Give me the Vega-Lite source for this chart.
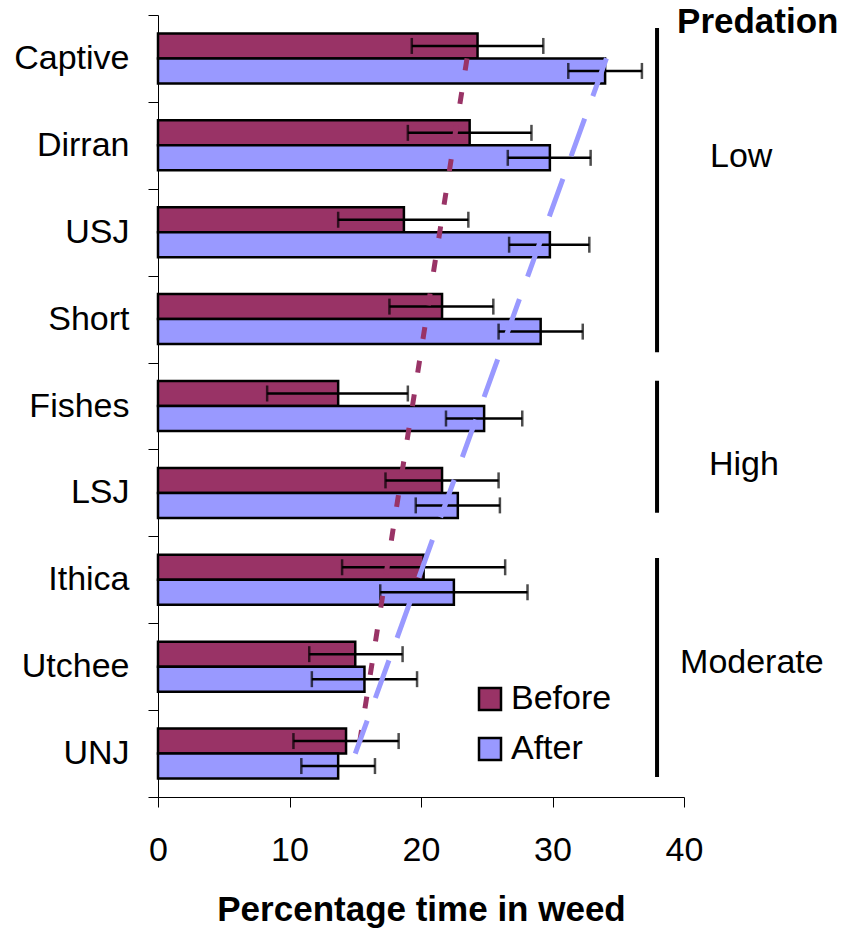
{
  "$schema": "https://vega.github.io/schema/vega-lite/v6.json",
  "width": 526,
  "height": 782,
  "autosize": {"type": "none"},
  "padding": {"left": 158, "top": 15, "right": 157, "bottom": 133},
  "background": "white",
  "config": {
    "font": "Liberation Sans",
    "view": {"stroke": null},
    "axis": {"labelColor": "black", "titleColor": "black", "domainColor": "black", "tickColor": "black", "grid": false}
  },
  "datasets": {
    "bars": [
      {"site": "Captive", "series": "Before", "value": 24.3, "lo": 19.3, "hi": 29.3},
      {"site": "Captive", "series": "After", "value": 34.0, "lo": 31.2, "hi": 36.8},
      {"site": "Dirran", "series": "Before", "value": 23.7, "lo": 19.0, "hi": 28.4},
      {"site": "Dirran", "series": "After", "value": 29.8, "lo": 26.6, "hi": 32.9},
      {"site": "USJ", "series": "Before", "value": 18.7, "lo": 13.7, "hi": 23.6},
      {"site": "USJ", "series": "After", "value": 29.8, "lo": 26.7, "hi": 32.8},
      {"site": "Short", "series": "Before", "value": 21.6, "lo": 17.6, "hi": 25.5},
      {"site": "Short", "series": "After", "value": 29.1, "lo": 25.9, "hi": 32.3},
      {"site": "Fishes", "series": "Before", "value": 13.7, "lo": 8.3, "hi": 19.0},
      {"site": "Fishes", "series": "After", "value": 24.8, "lo": 21.9, "hi": 27.7},
      {"site": "LSJ", "series": "Before", "value": 21.6, "lo": 17.3, "hi": 25.9},
      {"site": "LSJ", "series": "After", "value": 22.8, "lo": 19.6, "hi": 26.0},
      {"site": "Ithica", "series": "Before", "value": 20.2, "lo": 14.0, "hi": 26.4},
      {"site": "Ithica", "series": "After", "value": 22.5, "lo": 16.9, "hi": 28.1},
      {"site": "Utchee", "series": "Before", "value": 15.0, "lo": 11.5, "hi": 18.6},
      {"site": "Utchee", "series": "After", "value": 15.7, "lo": 11.7, "hi": 19.7},
      {"site": "UNJ", "series": "Before", "value": 14.3, "lo": 10.3, "hi": 18.3},
      {"site": "UNJ", "series": "After", "value": 13.7, "lo": 10.9, "hi": 16.5}
    ],
    "trend": [
      {"site": "Captive", "series": "Before", "value": 23.5},
      {"site": "UNJ", "series": "Before", "value": 15.2},
      {"site": "Captive", "series": "After", "value": 34.1},
      {"site": "UNJ", "series": "After", "value": 15.0}
    ],
    "groups": [
      {"group": "Low", "x": 37.95, "y": 0.15, "y2": 3.88},
      {"group": "High", "x": 37.95, "y": 4.21, "y2": 5.73},
      {"group": "Moderate", "x": 37.95, "y": 6.25, "y2": 8.77}
    ],
    "labels": [
      {"label": "Predation", "x": 39.47, "y": 0.21, "kind": "head"},
      {"label": "Low", "x": 41.98, "y": 1.75, "kind": "group"},
      {"label": "High", "x": 41.9, "y": 5.29, "kind": "group"},
      {"label": "Moderate", "x": 39.7, "y": 7.57, "kind": "group"}
    ]
  },
  "layer": [
    {
      "encoding": {
        "y": {
          "field": "site", "type": "nominal",
          "scale": {"domain": ["Captive", "Dirran", "USJ", "Short", "Fishes", "LSJ", "Ithica", "Utchee", "UNJ"], "paddingInner": 0, "paddingOuter": 0},
          "axis": {"title": null, "tickBand": "extent", "tickSize": 10, "labelFontSize": 34, "labelPadding": 19, "labelColor": "black"}
        }
      },
      "layer": [
        {
          "data": {"name": "bars"},
          "mark": {"type": "bar", "stroke": "black", "strokeWidth": 2.5},
          "encoding": {
            "x": {
              "field": "value", "type": "quantitative",
              "scale": {"domain": [0, 40], "nice": false},
              "axis": {"values": [0, 10, 20, 30, 40], "labelFlush": false, "tickSize": 10, "labelFontSize": 34, "labelPadding": 26, "title": "Percentage time in weed", "titleFontSize": 35, "titleFontWeight": "bold", "titlePadding": 25}
            },
            "yOffset": {"field": "series", "type": "nominal", "scale": {"domain": ["Before", "After"], "paddingInner": 0, "paddingOuter": 0.738}},
            "color": {
              "field": "series", "type": "nominal",
              "scale": {"domain": ["Before", "After"], "range": ["#993366", "#9999FF"]},
              "legend": {"title": null, "orient": "none", "legendX": 315, "legendY": 667, "labelFontSize": 34, "labelColor": "black", "symbolType": "square", "symbolSize": 484, "symbolStrokeColor": "black", "symbolStrokeWidth": 2.5, "symbolOpacity": 1, "rowPadding": 16, "labelOffset": 4, "padding": 0}
            }
          }
        },
        {
          "data": {"name": "bars"},
          "mark": {"type": "rule", "color": "black", "strokeWidth": 2.5},
          "encoding": {
            "x": {"field": "lo", "type": "quantitative"},
            "x2": {"field": "hi"},
            "yOffset": {"field": "series", "type": "nominal", "scale": {"domain": ["Before", "After"], "paddingInner": 0, "paddingOuter": 0.738}}
          }
        },
        {
          "data": {"name": "bars"},
          "mark": {"type": "tick", "color": "black", "thickness": 2.5, "size": 16, "orient": "vertical"},
          "encoding": {
            "x": {"field": "lo", "type": "quantitative"},
            "yOffset": {"field": "series", "type": "nominal", "scale": {"domain": ["Before", "After"], "paddingInner": 0, "paddingOuter": 0.738}}
          }
        },
        {
          "data": {"name": "bars"},
          "mark": {"type": "tick", "color": "black", "thickness": 2.5, "size": 16, "orient": "vertical"},
          "encoding": {
            "x": {"field": "hi", "type": "quantitative"},
            "yOffset": {"field": "series", "type": "nominal", "scale": {"domain": ["Before", "After"], "paddingInner": 0, "paddingOuter": 0.738}}
          }
        },
        {
          "data": {"name": "trend"},
          "transform": [{"filter": "datum.series === 'Before'"}],
          "mark": {"type": "line", "color": "#993366", "strokeWidth": 5, "strokeDash": [12, 22], "strokeCap": "butt"},
          "encoding": {
            "x": {"field": "value", "type": "quantitative"}
          }
        },
        {
          "data": {"name": "trend"},
          "transform": [{"filter": "datum.series === 'After'"}],
          "mark": {"type": "line", "color": "#9999FF", "strokeWidth": 5, "strokeDash": [40, 24], "strokeCap": "butt"},
          "encoding": {
            "x": {"field": "value", "type": "quantitative"}
          }
        }
      ]
    },
    {
      "data": {"name": "groups"},
      "mark": {"type": "rule", "color": "black", "strokeWidth": 4},
      "encoding": {
        "x": {"field": "x", "type": "quantitative"},
        "y": {"field": "y", "type": "quantitative", "scale": {"domain": [0, 9], "reverse": true, "nice": false, "zero": false}, "axis": null},
        "y2": {"field": "y2"}
      }
    },
    {
      "data": {"name": "labels"},
      "transform": [{"filter": "datum.kind === 'group'"}],
      "mark": {"type": "text", "align": "left", "baseline": "alphabetic", "fontSize": 34, "color": "black"},
      "encoding": {
        "x": {"field": "x", "type": "quantitative"},
        "y": {"field": "y", "type": "quantitative", "scale": {"domain": [0, 9], "reverse": true, "nice": false, "zero": false}, "axis": null},
        "text": {"field": "label"}
      }
    },
    {
      "data": {"name": "labels"},
      "transform": [{"filter": "datum.kind === 'head'"}],
      "mark": {"type": "text", "align": "left", "baseline": "alphabetic", "fontSize": 35, "fontWeight": "bold", "color": "black"},
      "encoding": {
        "x": {"field": "x", "type": "quantitative"},
        "y": {"field": "y", "type": "quantitative", "scale": {"domain": [0, 9], "reverse": true, "nice": false, "zero": false}, "axis": null},
        "text": {"field": "label"}
      }
    }
  ],
  "resolve": {"scale": {"y": "independent"}}
}
